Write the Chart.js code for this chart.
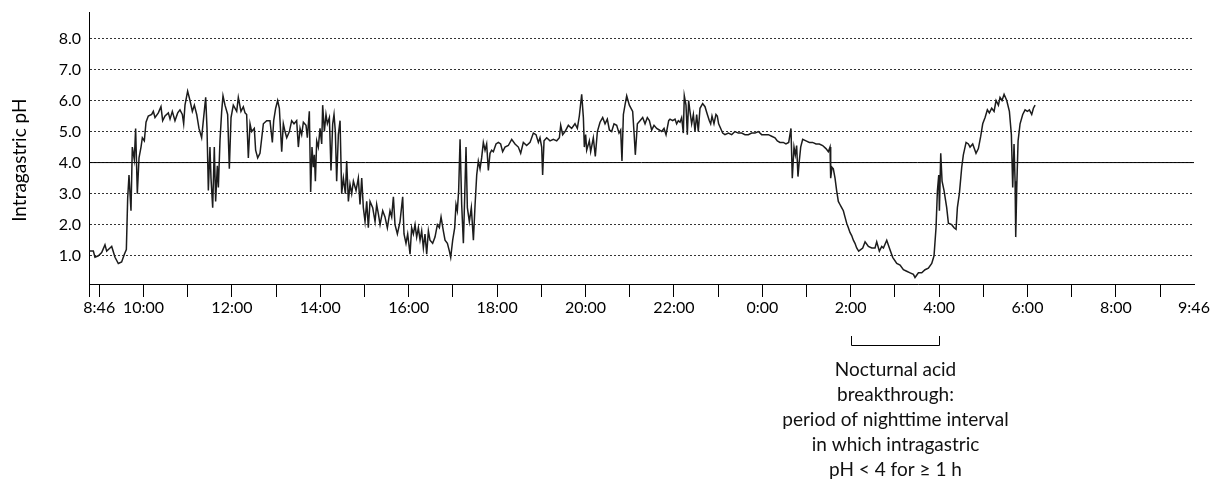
<!DOCTYPE html>
<html>
<head>
<meta charset="utf-8">
<script src="https://cdn.jsdelivr.net/npm/chart.js@4.4.0/dist/chart.umd.min.js"></script>
<style>
  html, body { margin: 0; padding: 0; background: #fff; }
  #wrap { width: 1211px; height: 482px; }
</style>
</head>
<body>
<div id="wrap"><canvas id="ph-chart" width="1211" height="482"></canvas></div>
<script>
// Minutes since the start of the recording (8:46)
const phTimes = [
  1, 5.9, 8.1, 12.7, 17.2, 21.7, 24.0, 28.5, 30.8, 35.3, 39.8, 44.3, 48.0, 50.7, 52.5, 54.3, 55.7, 57.0, 58.8,
  61.5, 63.3, 65.6, 67.9, 70.6, 72.4, 75.1, 77.4, 80.5, 85.1, 87.3, 89.6, 94.1, 97.7, 100.0, 103.2, 107.7,
  110.0, 113.1, 116.7, 120.4, 123.5, 126.7, 128.5, 130.3, 133.9, 137.1, 140.3, 143.0, 146.2, 149.3, 152.9,
  155.2, 158.4, 160.2, 162.0, 164.2, 165.6, 167.9, 170.1, 171.9, 174.2, 175.6, 177.8, 180.1, 181.9, 184.6,
  188.2, 190.5, 192.8, 195.9, 200.5, 202.7, 206.3, 209.5, 211.8, 214.0, 216.3, 218.6, 220.8, 224.4, 226.2,
  229.0, 232.1, 236.7, 241.2, 245.7, 248.9, 250.7, 253.4, 256.1, 258.4,
  261.6, 263.8, 266.1, 268.4, 272.0, 275.1, 278.3, 281.9, 284.2, 286.5, 288.7, 291.0, 294.6, 296.4, 299.1,
  300.9, 302.7, 304.6, 305.9, 307.3, 309.1, 311.3, 313.6, 315.9, 317.2, 319.5, 321.7, 323.6, 326.3, 328.5,
  330.8, 332.6, 334.4, 336.2, 338.5, 340.8, 343.0, 345.3, 348.0, 349.8, 352.1, 354.3, 356.6, 358.9, 362.5,
  365.6, 367.9, 370.2, 372.4, 374.7, 377.0, 379.2, 381.5, 385.1, 388.3, 390.5, 392.8, 395.1, 398.7, 401.8,
  405.0, 408.6, 410.9, 413.2, 415.4, 418.6, 422.2, 425.8, 427.6, 430.3, 432.6, 435.8, 438.0, 440.3, 442.6,
  444.8, 447.1, 449.4, 451.6, 453.9, 456.1, 458.4, 460.7, 462.9, 466.5, 469.7, 472.9, 475.6, 477.9, 481.0,
  483.3, 486.5, 489.2, 491.0, 493.7, 496.4, 498.2, 500.0, 501.8, 503.7, 505.9, 508.2, 510.0, 511.8, 513.6,
  516.3, 519.0, 521.8, 524.0, 526.3, 528.5,
  530.8, 533.0, 535.3, 537.6, 539.8, 542.1, 544.4, 546.6, 548.9, 552.5, 555.7, 558.8, 561.5, 564.7, 569.2,
  573.8, 578.3, 582.8, 586.0, 589.6, 594.1, 598.7, 603.2, 606.8, 610.0, 612.2, 614.5, 615.8, 617.7, 621.3,
  625.8, 630.3, 634.9, 638.5, 640.3, 643.0, 646.2, 650.7, 655.2, 659.7, 662.9, 665.6, 668.8, 671.1, 672.4,
  674.2, 675.6, 679.2, 681.0, 684.6, 687.3, 690.1, 693.7, 697.3, 700.5, 703.6, 706.4, 709.5, 712.7, 716.3,
  719.5, 721.7, 723.5, 725.4, 727.6, 729.9, 733.5, 738.0, 739.8, 741.6, 744.4, 748.0, 751.6, 754.8, 757.9,
  760.7, 763.8, 767.0, 770.6, 774.2, 777.4, 780.6, 783.3, 786.9,
  788.7, 792.3, 795.5, 797.7, 800.0, 802.3, 804.5, 806.8, 808.1, 810.4, 812.2, 814.0, 815.8, 818.1, 820.4,
  822.6, 824.9, 827.1, 829.4, 833.0, 836.2, 839.4, 842.1, 843.9, 845.7, 848.4, 851.1, 852.9, 854.7, 857.5,
  860.2, 863.3, 867.9, 872.4, 876.9, 881.4, 886.0, 890.5, 895.0, 899.5, 904.1, 908.6, 913.1, 917.6, 922.2,
  926.7, 931.2, 934.4, 938.0, 942.5, 946.1, 949.8, 952.9, 954.7, 957.0, 958.8, 960.6, 962.4, 964.2, 966.1,
  968.8, 973.3, 977.8, 982.3, 986.9, 991.4, 995.9, 1000.4, 1003.6, 1005.9, 1006.8, 1008.6, 1010.4, 1012.7,
  1014.9, 1017.2, 1019.4, 1021.7, 1024.0, 1026.2, 1028.5, 1030.8, 1033.0, 1035.3, 1037.6, 1039.8, 1042.1, 1044.8,
  1050.3, 1053.5, 1058.0, 1062.5, 1067.0, 1069.3, 1072.9, 1076.1, 1078.4, 1082.9, 1086.5, 1091.0, 1096.5,
  1101.0, 1105.5, 1110.0, 1114.6, 1119.1, 1121.3, 1125.9, 1130.4, 1134.9, 1139.4, 1144.0, 1147.1, 1149.8,
  1151.7, 1153.5, 1154.4, 1156.2, 1158.0, 1160.7, 1164.3, 1166.6, 1171.1, 1174.3, 1177.0, 1178.8, 1181.5,
  1184.7, 1186.9, 1190.6, 1193.7, 1196.0, 1199.6, 1204.1, 1207.3, 1210.5, 1213.2, 1216.4, 1219.5, 1222.2,
  1225.4, 1228.6, 1231.3, 1234.5, 1236.7, 1239.4, 1242.2, 1245.8, 1249.4, 1252.1, 1253.9, 1255.7, 1257.1,
  1258.0, 1259.4, 1261.2, 1263.9, 1267.5, 1270.7, 1273.8, 1276.6, 1279.7, 1282.0, 1284.3
];

const phValues = [
  1.15, 1.15, 0.95, 1.0, 1.1, 1.35, 1.15, 1.25, 1.3, 0.95, 0.75, 0.8, 1.05, 1.2, 2.85, 3.6, 3.0, 2.45, 4.5,
  4.1, 5.1, 3.0, 4.15, 4.5, 4.8, 4.7, 5.3, 5.5, 5.55, 5.65, 5.45, 5.6, 5.8, 5.35, 5.5, 5.6,
  5.4, 5.65, 5.35, 5.6, 5.7, 5.55, 5.25, 5.85, 6.3, 6.0, 5.65, 5.85, 5.55, 5.1, 4.8,
  5.35, 6.1, 5.1, 3.1, 4.5, 3.5, 2.55, 4.5, 2.75, 3.9, 3.2, 4.7, 5.65, 6.15, 5.85,
  5.55, 3.8, 5.45, 5.85, 5.65, 6.1, 5.65, 5.8, 5.6, 5.55, 4.15, 5.25, 5.0, 5.1, 4.4,
  4.15, 4.3, 5.25, 5.35, 5.35, 4.65, 5.35, 5.75, 6.0, 5.75,
  4.35, 5.25, 5.0, 4.8, 5.0, 5.35, 5.25, 5.35, 4.5, 5.1, 4.9, 5.3, 5.2, 4.8, 5.65,
  3.05, 4.5, 3.85, 4.25, 3.4, 4.7, 4.5, 5.1, 4.6, 5.85, 5.0, 5.55, 5.25, 5.45, 3.75,
  5.25, 5.55, 5.0, 3.4, 4.9, 5.35, 3.0, 3.5, 3.0, 4.05, 2.75, 3.3, 3.0, 3.4, 3.1,
  3.5, 2.65, 3.5, 2.55, 2.1, 2.75, 1.9, 2.75, 2.55, 2.1, 2.65, 2.35, 2.0, 2.45, 2.25,
  1.9, 2.45, 2.25, 2.9, 2.0, 1.7, 2.1, 2.9, 1.7, 1.4, 1.7, 1.05, 1.9, 1.7, 2.0,
  1.6, 1.9, 1.5, 1.8, 1.25, 1.7, 1.05, 1.8, 1.5, 1.4, 1.6, 2.0, 1.9, 2.25, 1.8,
  1.5, 1.4, 1.15, 0.95, 1.5, 1.9, 2.65, 2.45, 3.1, 4.75, 2.65, 1.4, 2.9, 4.5, 2.55,
  2.1, 2.55, 1.5, 2.6, 3.6, 4.05,
  3.8, 4.15, 4.65, 4.4, 4.6, 3.75, 4.3, 4.4, 4.35, 4.6, 4.65, 4.6, 4.35, 4.5, 4.55,
  4.75, 4.6, 4.5, 4.3, 4.65, 4.55, 4.65, 4.95, 4.9, 4.65, 4.8, 4.5, 3.6, 4.7, 4.8,
  4.7, 4.75, 4.7, 4.8, 5.2, 4.9, 5.0, 5.2, 5.1, 5.25, 5.1, 5.5, 6.2, 5.45, 4.5,
  4.9, 4.4, 4.7, 4.35, 4.8, 4.2, 5.0, 5.3, 5.45, 5.25, 5.4, 5.05, 5.0, 5.25, 5.2,
  4.95, 5.05, 4.05, 5.55, 5.85, 6.15, 5.85, 5.65, 5.0, 4.25, 5.25, 5.35, 5.45, 5.25, 5.45,
  5.35, 5.05, 5.2, 5.1, 5.05, 5.0, 5.1, 4.9, 5.35,
  5.4, 5.35, 5.4, 5.25, 5.35, 5.3, 5.45, 4.95, 6.15, 5.85, 4.9, 6.0, 5.65, 5.25, 5.55,
  5.0, 5.55, 5.0, 5.75, 5.9, 5.8, 5.55, 5.35, 5.25, 5.5, 5.25, 5.55, 5.5, 5.25, 5.1,
  4.95, 4.9, 4.95, 4.9, 5.0, 4.95, 4.95, 4.9, 4.9, 4.95, 4.95, 5.0, 4.9, 4.9, 4.9,
  4.85, 4.8, 4.7, 4.65, 4.65, 4.6, 4.65, 5.1, 3.5, 4.5, 4.25, 4.55, 3.55, 4.05, 4.5,
  4.75, 4.7, 4.65, 4.65, 4.6, 4.6, 4.55, 4.45, 4.35, 4.5, 3.5, 3.85, 3.8, 3.5,
  3.1, 2.75, 2.65, 2.55, 2.45, 2.25, 2.05, 1.9, 1.75, 1.65, 1.5, 1.4, 1.25, 1.15,
  1.25, 1.45, 1.3, 1.25, 1.25, 1.45, 1.15, 1.3, 1.25, 1.5, 1.25, 0.95, 0.75,
  0.7, 0.55, 0.5, 0.45, 0.4, 0.3, 0.45, 0.45, 0.55, 0.6, 0.75, 1.0, 1.9,
  3.1, 3.6, 2.45, 4.3, 3.4, 3.1, 2.55, 2.05, 2.0, 1.9, 1.85, 2.55, 3.0,
  3.85, 4.25, 4.65, 4.6, 4.5, 4.6, 4.3, 4.45, 4.85, 5.25, 5.45, 5.7, 5.6,
  5.75, 5.65, 6.0, 5.85, 6.1, 6.0, 6.2, 6.0, 5.65, 4.9, 3.2, 4.6, 3.4,
  1.6, 3.2, 4.7, 5.25, 5.55, 5.7, 5.65, 5.7, 5.55, 5.75, 5.85
];

// Axis ticks: minutes since 8:46 and their labels
const xTicks = [0, 14, 74, 134, 194, 254, 314, 374, 434, 494, 554, 614, 674, 734, 794, 854,
  914, 974, 1034, 1094, 1154, 1214, 1274, 1334, 1394, 1454, 1500];
const xTickLabels = ['8:46', '', '10:00', '', '12:00', '', '14:00', '', '16:00', '', '18:00', '',
  '20:00', '', '22:00', '', '0:00', '', '2:00', '', '4:00', '', '6:00', '', '8:00', '', '9:46'];
const yTicks = [1, 2, 3, 4, 5, 6, 7, 8];

const threshold = 4.0;
const breakthroughStart = 1034; // 2:00
const breakthroughEnd = 1154;   // 4:00
const noteLines = [
  'Nocturnal acid',
  'breakthrough:',
  'period of nighttime interval',
  'in which intragastric',
  'pH < 4 for \u2265 1 h'
];

const phPoints = phTimes.map((t, i) => ({ x: t, y: phValues[i] }));

// Bracket + explanation under the x axis
const notePlugin = {
  id: 'nocturnalNote',
  afterDraw(chart) {
    const { ctx, scales: { x } } = chart;
    const bottom = chart.chartArea.bottom;
    const x1 = Math.round(x.getPixelForValue(breakthroughStart)) + 0.5;
    const x2 = Math.round(x.getPixelForValue(breakthroughEnd)) + 0.5;
    ctx.save();
    ctx.strokeStyle = '#000';
    ctx.lineWidth = 1;
    ctx.beginPath();
    ctx.moveTo(x1, bottom + 52);
    ctx.lineTo(x1, bottom + 61.5);
    ctx.lineTo(x2, bottom + 61.5);
    ctx.lineTo(x2, bottom + 52);
    ctx.stroke();
    ctx.font = '19px Lato';
    ctx.fillStyle = '#111';
    ctx.textAlign = 'center';
    ctx.textBaseline = 'alphabetic';
    const cx = (x1 + x2) / 2;
    noteLines.forEach((line, i) => ctx.fillText(line, cx, bottom + 92 + i * 25));
    ctx.restore();
  }
};

const ctx = document.getElementById('ph-chart').getContext('2d');
new Chart(ctx, {
  type: 'line',
  data: {
    datasets: [
      {
        data: phPoints,
        borderColor: '#1c1c1c',
        borderWidth: 1.5,
        pointRadius: 0,
        tension: 0
      },
      {
        data: [{ x: xTicks[0], y: threshold }, { x: xTicks[xTicks.length - 1], y: threshold }],
        borderColor: '#000',
        borderWidth: 1,
        pointRadius: 0
      }
    ]
  },
  options: {
    responsive: false,
    animation: false,
    devicePixelRatio: 1,
    layout: { padding: { top: 12, right: 17, left: 0, bottom: 0 } },
    plugins: {
      legend: { display: false },
      tooltip: { enabled: false }
    },
    scales: {
      x: {
        type: 'linear',
        min: 0,
        max: 1500,
        afterBuildTicks: (scale) => { scale.ticks = xTicks.map(v => ({ value: v })); },
        afterFit: (scale) => { scale.height = 198; },
        grid: {
          drawOnChartArea: false,
          tickLength: 13,
          tickColor: (c) => (c.tick && c.tick.value === 1500 ? 'rgba(0,0,0,0)' : '#000'),
          lineWidth: 1
        },
        border: { color: '#000', width: 1 },
        ticks: {
          autoSkip: false,
          maxRotation: 0,
          padding: 1,
          color: '#000',
          font: { family: 'Lato', size: 16 },
          // first label sits a little to the right of the axis origin
          callback: (v) => {
            const lbl = xTickLabels[xTicks.indexOf(v)];
            return v === 0 ? '     ' + lbl : lbl;
          }
        }
      },
      y: {
        min: 0.09,
        max: 8.85,
        afterBuildTicks: (scale) => { scale.ticks = yTicks.map(v => ({ value: v })); },
        afterFit: (scale) => {
          scale.width = 89;
          // top label is well below the axis end, no extra room needed
          scale.paddingTop = 0;
          scale.paddingBottom = 0;
        },
        grid: { drawTicks: false, color: '#333', lineWidth: 1 },
        border: { color: '#000', width: 1, dash: [2, 2] },
        ticks: {
          padding: 8,
          color: '#000',
          font: { family: 'Lato', size: 16 },
          callback: (v) => v.toFixed(1)
        },
        title: {
          display: true,
          // trailing spaces push the title a bit lower, as in the original
          text: 'Intragastric pH     ',
          color: '#000',
          font: { family: 'Lato', size: 19 },
          padding: { top: 8, bottom: 0 }
        }
      }
    }
  },
  plugins: [notePlugin]
});
</script>
</body>
</html>
